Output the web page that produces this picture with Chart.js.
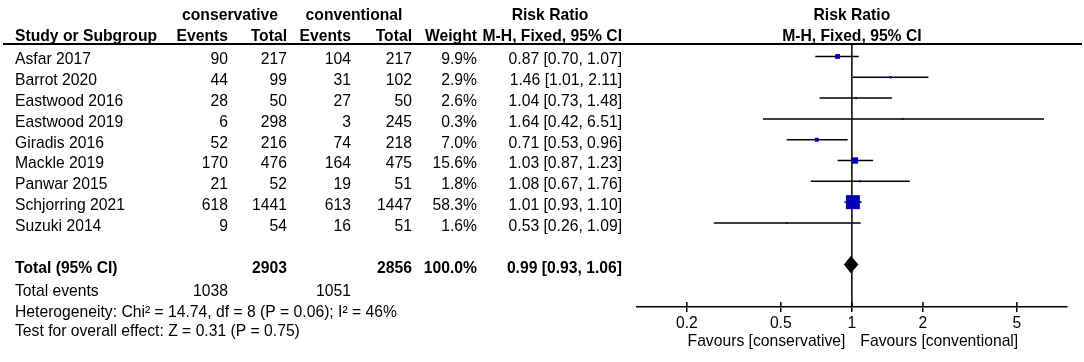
<!DOCTYPE html>
<html>
<head>
<meta charset="utf-8">
<script src="https://cdn.jsdelivr.net/npm/chart.js@4.4.1/dist/chart.umd.min.js"></script>
<style>
  html, body { margin: 0; padding: 0; background: #fff; }
  #wrap { position: relative; width: 1084px; height: 362px; }
</style>
</head>
<body>
<div id="wrap"><canvas id="c" width="1084" height="362"></canvas></div>
<script>
// ---- data ----
const studies = ['Asfar 2017', 'Barrot 2020', 'Eastwood 2016', 'Eastwood 2019', 'Giradis 2016', 'Mackle 2019', 'Panwar 2015', 'Schjorring 2021', 'Suzuki 2014'];
const consEvents = [90, 44, 28, 6, 52, 170, 21, 618, 9];
const consTotal = [217, 99, 50, 298, 216, 476, 52, 1441, 54];
const convEvents = [104, 31, 27, 3, 74, 164, 19, 613, 16];
const convTotal = [217, 102, 50, 245, 218, 475, 51, 1447, 51];
const weights = [9.9, 2.9, 2.6, 0.3, 7.0, 15.6, 1.8, 58.3, 1.6];
const riskRatio = [0.87, 1.46, 1.04, 1.64, 0.71, 1.03, 1.08, 1.01, 0.53];
const ciLow = [0.70, 1.01, 0.73, 0.42, 0.53, 0.87, 0.67, 0.93, 0.26];
const ciHigh = [1.07, 2.11, 1.48, 6.51, 0.96, 1.23, 1.76, 1.10, 1.09];
const totalRR = [0.99, 0.93, 1.06];          // estimate, low, high
const totalParticipants = [2903, 2856];      // conservative, conventional
const totalEvents = [1038, 1051];
const totalWeight = '100.0%';
const heterogeneityText = 'Heterogeneity: Chi² = 14.74, df = 8 (P = 0.06); I² = 46%';
const overallText = 'Test for overall effect: Z = 0.31 (P = 0.75)';
const tickValues = [0.2, 0.5, 1, 2, 5];
const tickLabels = ['0.2', '0.5', '1', '2', '5'];
const favourLabels = ['Favours [conservative]', 'Favours [conventional]'];

// ---- layout ----
const Y_MIN = -0.6, Y_MAX = 12.04;
const TOTAL_ROW = 10;
const FONT = '"Liberation Sans", Arial, sans-serif';
const FS = 15.7;
const fontR = FS + 'px ' + FONT;
const fontB = 'bold ' + FS + 'px ' + FONT;

const fmt2 = v => v.toFixed(2);
const ciText = (e, l, h) => fmt2(e) + ' [' + fmt2(l) + ', ' + fmt2(h) + ']';

// square side proportional-ish to weight
const maxW = Math.max(...weights);
const sqRadius = weights.map(w => Math.max(2, 14 * Math.pow(w / maxW, 0.6)) / Math.SQRT2);

const datasets = [];
// squares
datasets.push({
  data: studies.map((s, i) => ({ x: riskRatio[i], y: i })),
  pointStyle: 'rect',
  pointRadius: sqRadius,
  backgroundColor: '#0000B8',
  borderWidth: 0,
  showLine: false,
  order: 0
});
// diamond
const dh = 0.39;
datasets.push({
  data: [
    { x: totalRR[1], y: TOTAL_ROW },
    { x: totalRR[0], y: TOTAL_ROW - dh },
    { x: totalRR[2], y: TOTAL_ROW },
    { x: totalRR[0], y: TOTAL_ROW + dh },
    { x: totalRR[1], y: TOTAL_ROW }
  ],
  showLine: true,
  fill: 'shape',
  backgroundColor: '#000',
  borderColor: '#000',
  borderWidth: 1,
  pointRadius: 0,
  tension: 0,
  order: 0
});
// CI lines
studies.forEach((s, i) => {
  datasets.push({
    data: [{ x: ciLow[i], y: i }, { x: ciHigh[i], y: i }],
    showLine: true,
    borderColor: '#000',
    borderWidth: 1.5,
    pointRadius: 0,
    order: 1
  });
});
// line of no effect
datasets.push({
  data: [{ x: 1, y: Y_MIN }, { x: 1, y: Y_MAX }],
  showLine: true,
  borderColor: '#000',
  borderWidth: 1.5,
  pointRadius: 0,
  order: 2
});

const tablePlugin = {
  id: 'forestTable',
  afterDraw(chart) {
    const ctx = chart.ctx;
    const xs = chart.scales.x, ys = chart.scales.y;
    const rowY = v => ys.getPixelForValue(v);
    const x1 = xs.getPixelForValue(1);
    const txt = (t, x, y, align, bold) => {
      ctx.font = bold ? fontB : fontR;
      ctx.textAlign = align;
      ctx.textBaseline = 'middle';
      ctx.fillStyle = '#000';
      ctx.fillText(t, x, y);
    };
    ctx.save();
    // header
    const h1 = 16, h2 = 37;
    txt('conservative', 230, h1, 'center', true);
    txt('conventional', 354, h1, 'center', true);
    txt('Risk Ratio', 550, h1, 'center', true);
    txt('Risk Ratio', x1, h1, 'center', true);
    txt('Study or Subgroup', 15, h2, 'left', true);
    txt('Events', 228, h2, 'right', true);
    txt('Total', 287, h2, 'right', true);
    txt('Events', 351, h2, 'right', true);
    txt('Total', 412, h2, 'right', true);
    txt('Weight', 477, h2, 'right', true);
    txt('M-H, Fixed, 95% CI', 622, h2, 'right', true);
    txt('M-H, Fixed, 95% CI', x1, h2, 'center', true);
    // header rule
    ctx.strokeStyle = '#000';
    ctx.lineWidth = 2;
    ctx.beginPath();
    ctx.moveTo(3, ys.getPixelForValue(Y_MIN));
    ctx.lineTo(1082, ys.getPixelForValue(Y_MIN));
    ctx.stroke();
    // study rows
    studies.forEach((s, i) => {
      const y = rowY(i) + 3.5;
      txt(s, 15, y, 'left');
      txt(String(consEvents[i]), 228, y, 'right');
      txt(String(consTotal[i]), 287, y, 'right');
      txt(String(convEvents[i]), 351, y, 'right');
      txt(String(convTotal[i]), 412, y, 'right');
      txt(weights[i].toFixed(1) + '%', 477, y, 'right');
      txt(ciText(riskRatio[i], ciLow[i], ciHigh[i]), 622, y, 'right');
    });
    // totals
    let y = rowY(TOTAL_ROW) + 4.5;
    txt('Total (95% CI)', 15, y, 'left', true);
    txt(String(totalParticipants[0]), 287, y, 'right', true);
    txt(String(totalParticipants[1]), 412, y, 'right', true);
    txt(totalWeight, 477, y, 'right', true);
    txt(ciText(totalRR[0], totalRR[1], totalRR[2]), 622, y, 'right', true);
    y = rowY(TOTAL_ROW + 1) + 6.5;
    txt('Total events', 15, y, 'left');
    txt(String(totalEvents[0]), 228, y, 'right');
    txt(String(totalEvents[1]), 351, y, 'right');
    y = rowY(TOTAL_ROW + 2) + 6.5;
    txt(heterogeneityText, 15, y, 'left');
    y = rowY(TOTAL_ROW + 3) + 5;
    txt(overallText, 15, y, 'left');
    // upward part of x ticks
    const base = chart.chartArea.bottom;
    ctx.lineWidth = 1.5;
    tickValues.forEach(v => {
      const px = xs.getPixelForValue(v);
      ctx.beginPath();
      ctx.moveTo(px, base - 5);
      ctx.lineTo(px, base);
      ctx.stroke();
    });
    // favours labels
    txt(favourLabels[0], x1 - 6.5, 342, 'right');
    txt(favourLabels[1], x1 + 8.5, 342, 'left');
    ctx.restore();
  }
};

new Chart(document.getElementById('c'), {
  type: 'scatter',
  data: { datasets },
  options: {
    responsive: false,
    animation: false,
    events: [],
    layout: { padding: { left: 637, right: 17, top: 44, bottom: 25 } },
    plugins: { legend: { display: false }, tooltip: { enabled: false } },
    scales: {
      x: {
        type: 'logarithmic',
        min: 0.123,
        max: 8.15,
        afterBuildTicks: s => { s.ticks = tickValues.map(v => ({ value: v })); },
        afterFit: s => { s.height = 30; },
        ticks: {
          autoSkip: false,
          maxRotation: 0,
          padding: 2,
          color: '#000',
          font: { family: FONT, size: FS },
          callback: (v, i) => tickLabels[i]
        },
        grid: { display: true, drawOnChartArea: false, drawTicks: true, tickLength: 5, color: '#000', lineWidth: 1.5 },
        border: { display: true, color: '#000', width: 1.5 }
      },
      y: {
        type: 'linear',
        reverse: true,
        min: Y_MIN,
        max: Y_MAX,
        display: false
      }
    }
  },
  plugins: [tablePlugin]
});
</script>
</body>
</html>
